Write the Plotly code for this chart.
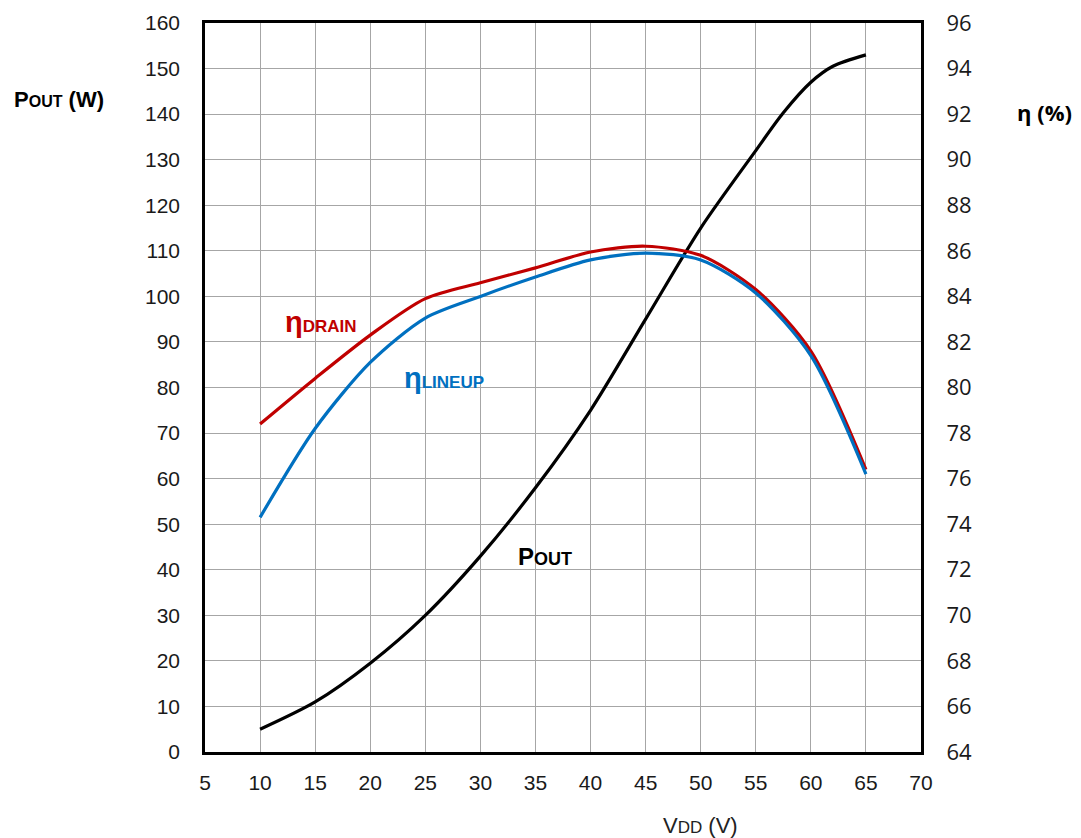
import plotly.graph_objects as go

vdd = [10, 15, 20, 25, 30, 35, 40, 45, 50, 55, 57.5, 60, 62, 65]
pout = [5, 11, 19.5, 30, 43, 58, 75, 95, 115, 132, 140.3, 147, 150.5, 153]
vdd_eff = [10, 15, 20, 25, 30, 35, 40, 45, 50, 55, 60, 65]
eta_drain = [78.4, 80.4, 82.3, 83.9, 84.6, 85.25, 85.95, 86.2, 85.8, 84.3, 81.6, 76.4]
eta_lineup = [74.3, 78.2, 81.1, 83.05, 84.0, 84.85, 85.6, 85.9, 85.6, 84.15, 81.4, 76.2]

x_ticks = list(range(5, 71, 5))
y_left_ticks = list(range(0, 161, 10))
y_right_ticks = list(range(64, 97, 2))

FONT = "Liberation Sans, Arial, sans-serif"
FONT_R = "Open Sans, Noto Sans, sans-serif"
RED = "#C00000"
BLUE = "#0070C0"

fig = go.Figure()
fig.add_trace(go.Scatter(x=vdd, y=pout, mode="lines", line=dict(color="black", width=3.2, shape="spline", smoothing=0.8), yaxis="y", showlegend=False))
fig.add_trace(go.Scatter(x=vdd_eff, y=eta_drain, mode="lines", line=dict(color=RED, width=3.2, shape="spline", smoothing=0.8), yaxis="y2", showlegend=False))
fig.add_trace(go.Scatter(x=vdd_eff, y=eta_lineup, mode="lines", line=dict(color=BLUE, width=3.2, shape="spline", smoothing=0.8), yaxis="y2", showlegend=False))

grid = "#A6A6A6"
fig.update_layout(
    width=1073, height=830,
    margin=dict(l=197, r=160, t=15, b=86, autoexpand=False),
    paper_bgcolor="white", plot_bgcolor="white",
    font=dict(family=FONT, size=21, color="#1a1a1a"),
    xaxis=dict(range=[5, 70], tickvals=x_ticks, showgrid=True, gridcolor=grid, gridwidth=1, automargin=False,
               showline=True, linecolor="black", linewidth=2.5, mirror=True, zeroline=False,
               ticks="outside", ticklen=10, tickcolor="rgba(0,0,0,0)", tickfont=dict(size=21)),
    yaxis=dict(range=[0, 160], tickvals=y_left_ticks, showgrid=True, gridcolor=grid, gridwidth=1, automargin=False,
               showline=True, linecolor="black", linewidth=2.5, mirror=True, zeroline=False,
               ticks="outside", ticklen=18, tickcolor="rgba(0,0,0,0)", tickfont=dict(size=21)),
    yaxis2=dict(range=[64, 96.0001], tickvals=y_right_ticks, overlaying="y", side="right", showgrid=False, automargin=False,
                showline=False, zeroline=False, ticks="outside", ticklen=20, tickcolor="rgba(0,0,0,0)",
                ticklabeloverflow="allow",
                tickfont=dict(size=22, family=FONT_R, color="#1a1a1a")),
)

fig.add_annotation(xref="paper", yref="paper", x=-0.2696, y=0.8944, xanchor="left", yanchor="middle", showarrow=False,
                   text="<b>P<span style='font-size:16px'>OUT</span> (W)</b>", font=dict(size=22, color="black", family=FONT))
fig.add_annotation(xref="paper", yref="paper", x=1.131, y=0.878, xanchor="left", yanchor="middle", showarrow=False,
                   text="<b>η (%)</b>", font=dict(size=22, color="black", family=FONT_R))
fig.add_annotation(xref="paper", yref="paper", x=0.692, y=-0.1015, xanchor="center", yanchor="middle", showarrow=False,
                   text="V<span style='font-size:17px'>DD</span> (V)", font=dict(size=22, color="#222", family=FONT))

fig.add_annotation(xref="x", yref="y", x=15.5, y=94.4, showarrow=False,
                   text="<b><span style='font-size:29px'>η</span><span style='font-size:17px'>DRAIN</span></b>",
                   font=dict(color=RED, family=FONT))
fig.add_annotation(xref="x", yref="y", x=26.7, y=82.1, showarrow=False,
                   text="<b><span style='font-size:29px'>η</span><span style='font-size:17px'>LINEUP</span></b>",
                   font=dict(color=BLUE, family=FONT))
fig.add_annotation(xref="x", yref="y", x=35.9, y=42.8, showarrow=False,
                   text="<b><span style='font-size:24px'>P</span><span style='font-size:18px'>OUT</span></b>",
                   font=dict(color="black", family=FONT))

fig.write_html("out.html")
